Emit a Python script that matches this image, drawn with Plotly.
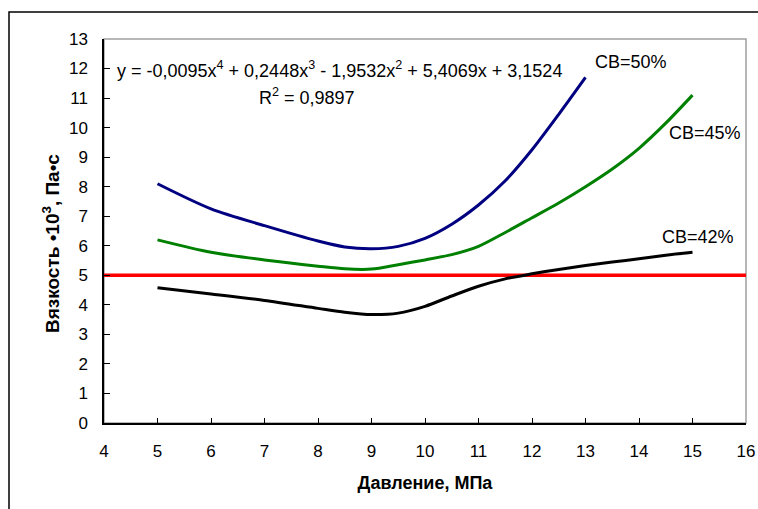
import plotly.graph_objects as go

# Data
x50 = [5, 6, 7, 8, 8.5, 9, 9.5, 10, 10.5, 11, 11.5, 12, 12.5, 13]
y50 = [8.1, 7.25, 6.68, 6.16, 5.96, 5.9, 5.98, 6.25, 6.73, 7.38, 8.2, 9.25, 10.45, 11.7]

x45 = [5, 6, 7, 8, 8.5, 9, 9.5, 10, 10.5, 11, 11.5, 12, 12.5, 13, 13.5, 14, 14.5, 15]
y45 = [6.2, 5.78, 5.52, 5.31, 5.22, 5.21, 5.36, 5.52, 5.7, 5.98, 6.45, 6.95, 7.45, 8.0, 8.6, 9.3, 10.15, 11.1]

x42 = [5, 6, 7, 8, 8.5, 9, 9.5, 10, 10.5, 11, 11.5, 12, 12.5, 13, 13.5, 14, 14.5, 15]
y42 = [4.58, 4.37, 4.15, 3.88, 3.75, 3.67, 3.72, 3.95, 4.3, 4.63, 4.88, 5.05, 5.2, 5.33, 5.45, 5.56, 5.68, 5.78]

x_limit = [4, 5, 6, 7, 8, 9, 10, 11, 12, 13, 14, 15, 16]
y_limit = [5] * len(x_limit)

x_ticks = list(range(4, 17))
y_ticks = list(range(0, 14))

FONT = "Liberation Sans, Arial, sans-serif"

fig = go.Figure()
fig.add_trace(go.Scatter(x=x_limit, y=y_limit, mode="lines",
                         line=dict(color="#FF0000", width=3.5), hoverinfo="skip"))
fig.add_trace(go.Scatter(x=x50, y=y50, mode="lines", line_shape="spline",
                         line=dict(color="#000080", width=3, smoothing=0.8)))
fig.add_trace(go.Scatter(x=x45, y=y45, mode="lines", line_shape="spline",
                         line=dict(color="#008000", width=3, smoothing=0.8)))
fig.add_trace(go.Scatter(x=x42, y=y42, mode="lines", line_shape="spline",
                         line=dict(color="#000000", width=3, smoothing=0.8)))

ann_font = dict(family=FONT, size=18, color="#000000")
annotations = [
    dict(x=13.14, y=12.22, text="CB=50%", xanchor="left", yanchor="middle"),
    dict(x=14.52, y=9.82, text="CB=45%", xanchor="left", yanchor="middle"),
    dict(x=14.39, y=6.30, text="CB=42%", xanchor="left", yanchor="middle"),
    dict(x=4.21, y=11.98,
         text="y = -0,0095x<sup>4</sup> + 0,2448x<sup>3</sup> - 1,9532x<sup>2</sup> + 5,4069x + 3,1524",
         xanchor="left", yanchor="middle"),
    dict(x=6.86, y=11.04, text="R<sup>2</sup> = 0,9897", xanchor="left", yanchor="middle"),
]
for a in annotations:
    a.update(xref="x", yref="y", showarrow=False, font=ann_font)

annotations.append(dict(
    xref="paper", yref="paper", x=(51 - 104) / 642, y=(423 - 244) / 384,
    xanchor="center", yanchor="middle", textangle=-90, showarrow=False,
    text="<b>Вязкость •10<sup>3</sup>, Па•с</b>",
    font=dict(family=FONT, size=19, color="#000000"),
))

fig.update_layout(
    width=758, height=509,
    margin=dict(l=104, r=12, t=39, b=86, autoexpand=False),
    paper_bgcolor="white", plot_bgcolor="white",
    showlegend=False,
    font=dict(family=FONT, size=17, color="#000000"),
    annotations=annotations,
    shapes=[
        dict(type="rect", xref="paper", yref="paper", x0=0, x1=1, y0=0, y1=1,
             line=dict(color="#A0A0A0", width=1.5), layer="below"),
        dict(type="rect", xref="paper", yref="paper",
             x0=(9 - 104) / 642, x1=(780 - 104) / 642,
             y0=(423 - 530) / 384, y1=(423 - 12) / 384,
             line=dict(color="#000000", width=1.5)),
    ],
    xaxis=dict(
        range=[4, 16], tickvals=x_ticks, ticktext=[str(v) for v in x_ticks],
        showgrid=False, zeroline=False, showline=True, linecolor="#000000", linewidth=1.5,
        ticks="inside", ticklen=5, tickcolor="#000000", tickwidth=1,
        ticklabelstandoff=12, automargin=False,
        tickfont=dict(family=FONT, size=17),
        title=dict(text="<b>Давление, МПа</b>", font=dict(family=FONT, size=18), standoff=16),
    ),
    yaxis=dict(
        range=[0, 13], tickvals=y_ticks, ticktext=[str(v) for v in y_ticks],
        showgrid=False, zeroline=False, showline=True, linecolor="#000000", linewidth=1.5,
        ticks="inside", ticklen=6, tickcolor="#000000", tickwidth=1,
        ticklabelstandoff=11, automargin=False,
        tickfont=dict(family=FONT, size=17),
    ),
)

fig.write_html("out.html")
